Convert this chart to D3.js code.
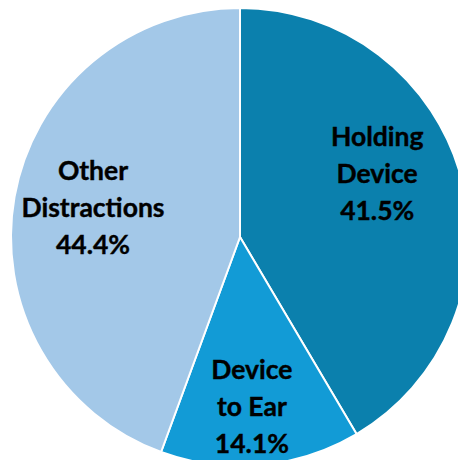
<!DOCTYPE html>
<html><head><meta charset="utf-8">
<script src="https://cdn.jsdelivr.net/npm/d3@7"></script>
<style>html,body{margin:0;padding:0;background:#fff;overflow:hidden}</style>
</head><body>
<svg id="c" width="458" height="460"></svg>
<script>
const categories = ["Holding Device", "Device to Ear", "Other Distractions"];
const labelLines = [["Holding", "Device"], ["Device", "to Ear"], ["Other", "Distractions"]];
const values = [41.5, 14.1, 44.4];
const colors = ["#0b80ad", "#129bd6", "#a3c8e8"];

const svg = d3.select("#c");
const cx = 240, cy = 237, R = 229;
const g = svg.append("g").attr("transform", `translate(${cx},${cy})`);

const pie = d3.pie().sort(null).value(d => d.v);
const data = pie(values.map((v, i) => ({v, i})));
const arc = d3.arc().innerRadius(0).outerRadius(R);

g.selectAll("path").data(data).join("path")
  .attr("d", arc)
  .attr("fill", d => colors[d.data.i])
  .attr("stroke", "#fff").attr("stroke-width", 2).attr("stroke-linejoin", "round");

// label placement (angle offset in radians from slice middle, radius)
const labelLayout = [{da: -0.164, r: 151}, {da: 0.021, r: 170}, {da: 0.024, r: 150}];
const fs = 26.5, lh = 37;
data.forEach((d, k) => {
  const L = labelLayout[k];
  const a = (d.startAngle + d.endAngle) / 2 + L.da;
  const x = Math.sin(a) * L.r, y = -Math.cos(a) * L.r;
  const lines = labelLines[k].concat([d3.format(".1f")(values[k]) + "%"]);
  const t = g.append("text").attr("text-anchor", "middle")
    .attr("font-family", "Lato, 'Noto Sans', sans-serif").attr("font-weight", "bold")
    .attr("font-size", fs).attr("fill", "#000")
    .attr("stroke", "#000").attr("stroke-width", 0.4);
  lines.forEach((s, j) => {
    t.append("tspan").attr("x", x).attr("y", y + (j - 1) * lh + fs * 0.36).text(s);
  });
});
</script>
</body></html>
